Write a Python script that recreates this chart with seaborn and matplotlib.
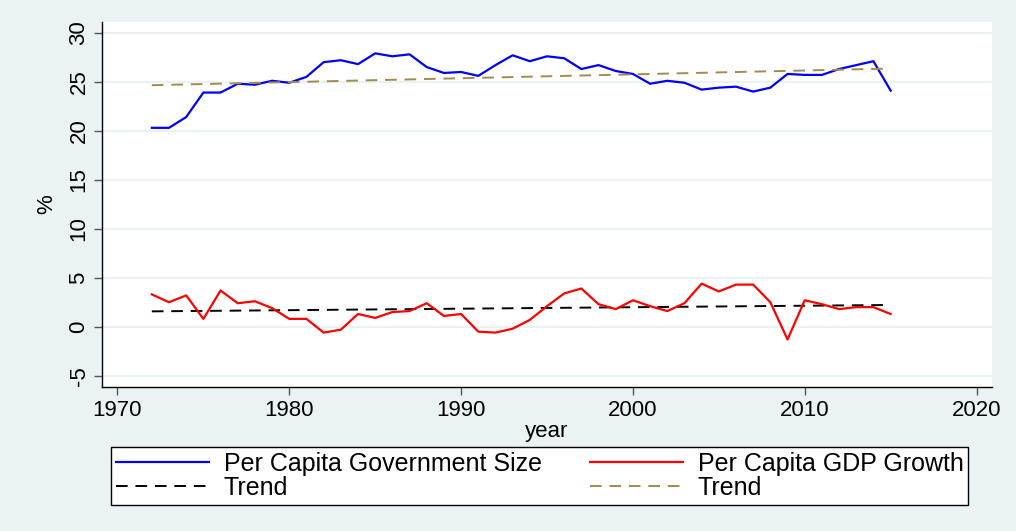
import matplotlib
matplotlib.use("Agg")
import matplotlib.pyplot as plt
import seaborn as sns
import pandas as pd

BG = "#EAF2F3"
GOV_COLOR = "#0000FF"
GDP_COLOR = "#FF0000"
GOV_TREND_COLOR = "#A38A4E"
GDP_TREND_COLOR = "black"

years = list(range(1972, 2016))

gov_size = [
    20.3, 20.3, 21.4, 23.9, 23.9, 24.8, 24.7, 25.1, 24.9, 25.5,
    27.0, 27.2, 26.8, 27.9, 27.6, 27.8, 26.5, 25.9, 26.0, 25.6,
    26.7, 27.7, 27.1, 27.6, 27.4, 26.3, 26.7, 26.1, 25.8, 24.8,
    25.1, 24.9, 24.2, 24.4, 24.5, 24.0, 24.4, 25.8, 25.7, 25.7,
    26.3, 26.7, 27.1, 24.1,
]

gdp_growth = [
    3.3, 2.5, 3.2, 0.8, 3.7, 2.4, 2.6, 1.9, 0.8, 0.8,
    -0.6, -0.3, 1.3, 0.9, 1.5, 1.6, 2.4, 1.1, 1.3, -0.5,
    -0.6, -0.2, 0.7, 2.1, 3.4, 3.9, 2.3, 1.8, 2.7, 2.1,
    1.6, 2.4, 4.4, 3.6, 4.3, 4.3, 2.5, -1.3, 2.7, 2.3,
    1.8, 2.0, 2.0, 1.3,
]

# fitted trend lines, read at the end points
trend_years = [1972, 2015]
gov_trend = [24.65, 26.35]
gdp_trend = [1.57, 2.22]

plt.rcParams.update({
    "font.family": ["Liberation Sans", "DejaVu Sans"],
    "font.size": 16,
})

df = pd.DataFrame({"year": years, "gov": gov_size, "gdp": gdp_growth})
trend = pd.DataFrame({"year": trend_years, "gov": gov_trend, "gdp": gdp_trend})

fig = plt.figure(figsize=(10.16, 5.31), dpi=100, facecolor=BG)
ax = fig.add_axes([102 / 1016, 1 - 387 / 531, 890 / 1016, 365 / 531])
ax.set_facecolor("white")

sns.lineplot(data=df, x="year", y="gov", color=GOV_COLOR, lw=1.6,
             label="Per Capita Government Size", ax=ax)
sns.lineplot(data=trend, x="year", y="gdp", color=GDP_TREND_COLOR, lw=1.4,
             label="Trend", ax=ax)
sns.lineplot(data=df, x="year", y="gdp", color=GDP_COLOR, lw=1.6,
             label="Per Capita GDP Growth", ax=ax)
sns.lineplot(data=trend, x="year", y="gov", color=GOV_TREND_COLOR, lw=1.4,
             label="Trend", ax=ax)
for line in (ax.lines[1], ax.lines[3]):
    line.set_dashes((6, 4))

ax.set_xlim(1969.1, 2020.9)
ax.set_ylim(-6.15, 31.1)
ax.set_xticks(range(1970, 2021, 10))
ax.set_yticks(range(-5, 31, 5))
ax.set_yticklabels([str(v) for v in range(-5, 31, 5)], rotation=90, va="center")
ax.tick_params(direction="out", length=6, width=1, color="#555555", labelsize=16, pad=3)
ax.yaxis.grid(True, color=BG, lw=1.6)
ax.set_axisbelow(True)
for side in ("top", "right"):
    ax.spines[side].set_visible(False)
for side in ("left", "bottom"):
    ax.spines[side].set_color("black")
    ax.spines[side].set_linewidth(1.0)

ax.set_xlabel("year", fontsize=16, labelpad=0)
ax.set_ylabel("%", fontsize=16, labelpad=8)

handles, labels = ax.get_legend_handles_labels()
ax.get_legend().remove()
leg = fig.legend(
    handles, labels, ncol=2, loc="upper left",
    bbox_to_anchor=(111 / 1016, 1 - 447 / 531),
    frameon=True, fancybox=False, edgecolor="black", framealpha=1,
    fontsize=18, handlelength=3.72, handletextpad=0.6,
    labelspacing=0.0, borderpad=0.2, borderaxespad=0, columnspacing=1.9,
)
leg.get_frame().set_linewidth(1.0)

fig.savefig("out.png", dpi=100, facecolor=BG)
